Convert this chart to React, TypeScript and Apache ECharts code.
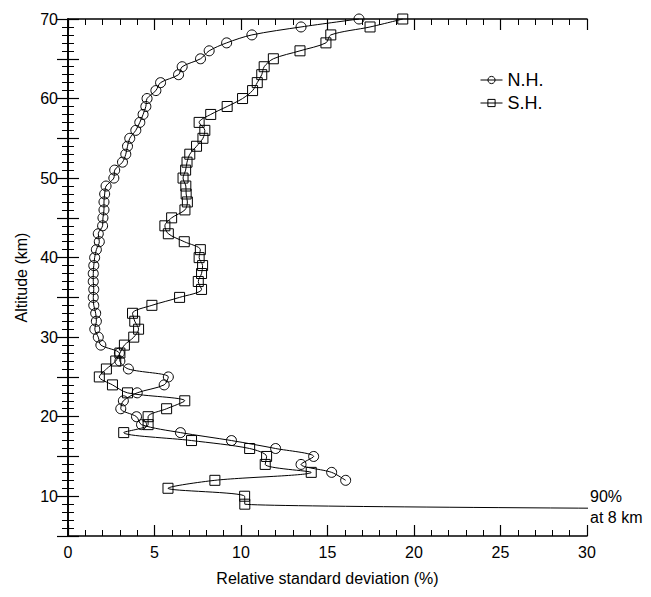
import React, { useEffect, useRef } from "react";
import * as echarts from "echarts";

// Altitudes (km), top to bottom
const nhAltitudes = [70, 69, 68, 67, 66, 65, 64, 63, 62, 61, 60, 59, 58, 57, 56, 55, 54, 53, 52, 51, 50, 49, 48, 47, 46, 45, 44, 43, 42, 41, 40, 39, 38, 37, 36, 35, 34, 33, 32, 31, 30, 29, 28, 27, 26, 25, 24, 23, 22, 21, 20, 19, 18, 17, 16, 15, 14, 13, 12];
// Relative standard deviation (%) – Northern Hemisphere
const nhValues = [16.82, 13.47, 10.63, 9.17, 8.16, 7.66, 6.6, 6.39, 5.35, 5.08, 4.57, 4.5, 4.34, 4.15, 3.92, 3.57, 3.44, 3.34, 3.15, 2.7, 2.65, 2.2, 2.12, 2.08, 2.08, 2.02, 2.0, 1.75, 1.81, 1.64, 1.54, 1.49, 1.46, 1.46, 1.49, 1.46, 1.49, 1.6, 1.64, 1.55, 1.75, 1.9, 2.97, 3.0, 3.49, 5.8, 5.56, 4.0, 3.2, 3.05, 3.96, 4.25, 6.5, 9.45, 12.0, 14.2, 13.47, 15.24, 16.05];

const shAltitudes = [70, 69, 68, 67, 66, 65, 64, 63, 62, 61, 60, 59, 58, 57, 56, 55, 54, 53, 52, 51, 50, 49, 48, 47, 46, 45, 44, 43, 42, 41, 40, 39, 38, 37, 36, 35, 34, 33, 32, 31, 30, 29, 28, 27, 26, 25, 24, 23, 22, 21, 20, 19, 18, 17, 16, 15, 14, 13, 12, 11, 10, 9, 8];
// Relative standard deviation (%) – Southern Hemisphere (8 km value is 90%)
const shValues = [19.35, 17.46, 15.19, 14.91, 13.41, 11.87, 11.34, 11.2, 10.94, 10.67, 10.09, 9.2, 8.25, 7.58, 7.91, 7.8, 7.43, 7.04, 6.88, 6.8, 6.65, 6.81, 6.83, 6.9, 6.76, 5.99, 5.6, 5.8, 6.72, 7.65, 7.58, 7.78, 7.72, 7.53, 7.72, 6.45, 4.85, 3.73, 3.86, 4.08, 3.8, 3.26, 3.0, 2.76, 2.22, 1.81, 2.57, 3.44, 6.75, 5.7, 4.63, 4.63, 3.22, 7.14, 10.5, 11.48, 11.4, 14.06, 8.49, 5.78, 10.21, 10.22, 90];

const seriesNames = ["N.H.", "S.H."];
const xTitle = "Relative standard deviation (%)";
const yTitle = "Altitude (km)";
const noteLines = ["90%", "at 8 km"];

const FONT = "Liberation Sans, Arial, Helvetica, sans-serif";

export default function App() {
  const ref = useRef<HTMLDivElement>(null);

  useEffect(() => {
    if (!ref.current) return;
    const chart = echarts.init(ref.current, null, { renderer: "svg" });

    const nhData = nhValues.map((v, i) => [v, nhAltitudes[i]]);
    const shData = shValues.map((v, i) => [v, shAltitudes[i]]);

    const axisLine = { show: true, lineStyle: { color: "#000", width: 1.6 } };
    const tickBase = { show: true, inside: true, length: 11, lineStyle: { color: "#000", width: 1.2 } };
    const minorBase = { show: true, splitNumber: 5, length: 6, lineStyle: { color: "#000", width: 1 } };

    const xCommon = {
      type: "value",
      min: 0,
      max: 30,
      interval: 5,
      axisLine,
      axisTick: tickBase,
      minorTick: minorBase,
      splitLine: { show: false },
      minorSplitLine: { show: false },
    };
    const yCommon = {
      type: "value",
      min: 5,
      max: 70,
      interval: 5,
      axisLine,
      axisTick: tickBase,
      minorTick: minorBase,
      splitLine: { show: false },
      minorSplitLine: { show: false },
    };

    const seriesCommon = {
      type: "line",
      smooth: 0.3,
      symbolSize: 10,
      showSymbol: true,
      clip: true,
      lineStyle: { color: "#000", width: 1 },
      itemStyle: { color: "rgba(255,255,255,0)", borderColor: "#000", borderWidth: 1 },
      emphasis: { disabled: true },
      xAxisIndex: 0,
      yAxisIndex: 0,
    };

    chart.setOption({
      animation: false,
      backgroundColor: "#fff",
      textStyle: { fontFamily: FONT },
      grid: { left: 68, right: 64, top: 19, bottom: 61, containLabel: false },
      legend: {
        orient: "vertical",
        left: 475,
        top: 66,
        itemWidth: 22,
        itemHeight: 9,
        itemGap: 5,
        lineStyle: { width: 1, color: "#000" },
        itemStyle: { borderWidth: 1, borderColor: "#000", color: "rgba(255,255,255,0)" },
        textStyle: { fontSize: 18, color: "#000", fontFamily: FONT },
        data: seriesNames,
      },
      xAxis: [
        {
          ...xCommon,
          position: "bottom",
          name: xTitle,
          nameLocation: "middle",
          nameGap: 34,
          nameTextStyle: { fontSize: 16, color: "#000", fontFamily: FONT },
          axisLabel: { show: true, color: "#000", fontSize: 16, margin: 8, fontFamily: FONT },
        },
        {
          ...xCommon,
          position: "top",
          axisLabel: { show: false },
        },
      ],
      yAxis: [
        {
          ...yCommon,
          position: "left",
          name: yTitle,
          nameLocation: "middle",
          nameGap: 36,
          nameRotate: 90,
          nameTextStyle: { fontSize: 16, color: "#000", fontFamily: FONT },
          axisLabel: {
            show: true,
            color: "#000",
            fontSize: 16,
            margin: 10,
            fontFamily: FONT,
            formatter: (v: number) => (v % 10 === 0 ? String(v) : ""),
          },
        },
        {
          ...yCommon,
          position: "right",
          axisLabel: { show: false },
        },
      ],
      graphic: [
        {
          type: "text",
          left: 590,
          top: 488,
          style: { text: noteLines[0], fontSize: 16, fill: "#000", font: `16px ${FONT}` },
        },
        {
          type: "text",
          left: 590,
          top: 509,
          style: { text: noteLines[1], fontSize: 16, fill: "#000", font: `16px ${FONT}` },
        },
      ],
      series: [
        { ...seriesCommon, name: seriesNames[0], symbol: "circle", data: nhData },
        { ...seriesCommon, name: seriesNames[1], symbol: "rect", data: shData },
      ],
    });

    return () => chart.dispose();
  }, []);

  return <div ref={ref} style={{ width: 651, height: 597, position: "absolute", left: 0, top: 0 }} />;
}
